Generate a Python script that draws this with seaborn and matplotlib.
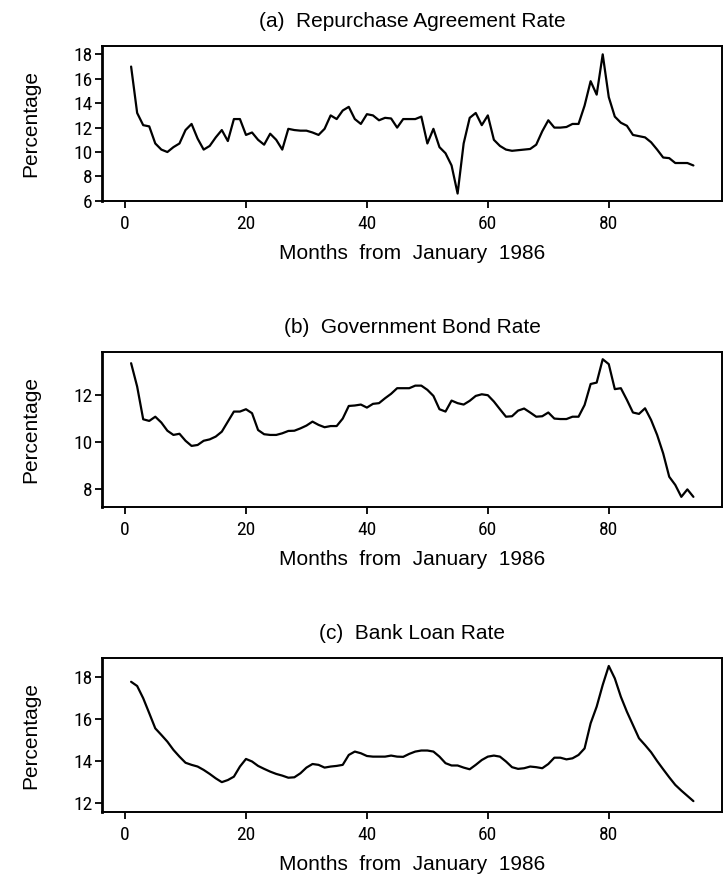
import numpy as np
import pandas as pd
import matplotlib
matplotlib.use("Agg")
import matplotlib.pyplot as plt
from matplotlib import font_manager
import seaborn as sns

# months since January 1986
months = list(range(1, 95))

# (a) repurchase agreement rate
repo_rate = [17.0, 13.2, 12.2, 12.1, 10.7, 10.2, 10.0, 10.4, 10.7, 11.8,
             12.3, 11.1, 10.2, 10.5, 11.2, 11.8, 10.9, 12.7, 12.7, 11.4,
             11.6, 11.0, 10.6, 11.5, 11.0, 10.2, 11.9, 11.8, 11.75, 11.75,
             11.6, 11.4, 11.9, 13.0, 12.7, 13.4, 13.7, 12.7, 12.3, 13.1,
             13.0, 12.6, 12.8, 12.75, 12.0, 12.7, 12.7, 12.7, 12.9, 10.7,
             11.9, 10.4, 9.9, 8.9, 6.6, 10.7, 12.8, 13.2, 12.2, 13.0,
             11.0, 10.5, 10.2, 10.1, 10.15, 10.2, 10.25, 10.6, 11.7, 12.6,
             12.0, 12.0, 12.05, 12.3, 12.3, 13.8, 15.8, 14.7, 18.0, 14.5,
             12.9, 12.4, 12.15, 11.4, 11.3, 11.2, 10.8, 10.2, 9.55, 9.5,
             9.1, 9.1, 9.1, 8.9]

# (b) government bond rate
bond_rate = [13.37, 12.37, 10.97, 10.9, 11.08, 10.83, 10.48, 10.3, 10.35, 10.05,
             9.83, 9.87, 10.05, 10.11, 10.23, 10.44, 10.87, 11.3, 11.3, 11.4,
             11.23, 10.51, 10.33, 10.3, 10.3, 10.37, 10.47, 10.48, 10.58, 10.7,
             10.87, 10.73, 10.63, 10.68, 10.68, 11.0, 11.54, 11.56, 11.6, 11.47,
             11.63, 11.66, 11.87, 12.06, 12.3, 12.3, 12.3, 12.41, 12.41, 12.23,
             11.97, 11.4, 11.3, 11.77, 11.66, 11.6, 11.76, 11.97, 12.04, 12.0,
             11.73, 11.4, 11.08, 11.1, 11.34, 11.43, 11.26, 11.08, 11.1, 11.26,
             11.0, 10.98, 10.98, 11.08, 11.08, 11.58, 12.48, 12.54, 13.54, 13.33,
             12.26, 12.3, 11.8, 11.26, 11.2, 11.44, 10.94, 10.3, 9.51, 8.51,
             8.16, 7.65, 7.97, 7.65]

# (c) bank loan rate
loan_rate = [17.76, 17.56, 16.98, 16.27, 15.55, 15.24, 14.92, 14.53, 14.21, 13.92,
             13.82, 13.74, 13.58, 13.39, 13.18, 13.0, 13.1, 13.26, 13.74, 14.1,
             13.98, 13.77, 13.63, 13.5, 13.39, 13.31, 13.21, 13.23, 13.42, 13.69,
             13.86, 13.82, 13.69, 13.74, 13.77, 13.82, 14.29, 14.45, 14.37, 14.24,
             14.21, 14.21, 14.21, 14.26, 14.21, 14.2, 14.34, 14.45, 14.5, 14.5,
             14.45, 14.21, 13.9, 13.79, 13.79, 13.69, 13.61, 13.82, 14.05, 14.21,
             14.26, 14.21, 13.98, 13.71, 13.63, 13.66, 13.74, 13.71, 13.66, 13.86,
             14.16, 14.16, 14.08, 14.13, 14.29, 14.6, 15.79, 16.58, 17.61, 18.51,
             17.92, 17.05, 16.34, 15.71, 15.08, 14.76, 14.42, 14.0, 13.61, 13.23,
             12.87, 12.6, 12.35, 12.1]

titles = ["(a)  Repurchase Agreement Rate",
          "(b)  Government Bond Rate",
          "(c)  Bank Loan Rate"]
y_ticks = [[6, 8, 10, 12, 14, 16, 18], [8, 10, 12], [12, 14, 16, 18]]
y_lims = [(6.0, 18.67), (7.23, 13.84), (11.6, 18.87)]

sns.set_style("ticks")
installed = {f.name for f in font_manager.fontManager.ttflist}
narrow = [f for f in ['Liberation Sans Narrow', 'Roboto Condensed'] if f in installed]
plt.rcParams['font.family'] = ['Liberation Sans', 'DejaVu Sans']
plt.rcParams['text.color'] = 'black'
plt.rcParams['axes.labelcolor'] = 'black'
tick_font = narrow[0] if narrow else 'Liberation Sans'
tick_size = 14 if narrow else 12

fig = plt.figure(figsize=(7.24, 8.81), dpi=100)

# axes rectangles in figure fractions
boxes = [[0.141, 0.772, 0.856, 0.1756],
         [0.141, 0.4249, 0.856, 0.1753],
         [0.141, 0.0787, 0.856, 0.174]]

series = [repo_rate, bond_rate, loan_rate]
for i in range(3):
    ax = fig.add_axes(boxes[i])
    df = pd.DataFrame({'month': months, 'rate': series[i]})
    sns.lineplot(data=df, x='month', y='rate', ax=ax, color='black', linewidth=1.6)
    ax.set_xlim(-3.8, 98.7)
    ax.set_ylim(*y_lims[i])
    ax.set_xticks([0, 20, 40, 60, 80])
    ax.set_yticks(y_ticks[i])
    ax.tick_params(axis='both', direction='out', length=5, width=1.3,
                   labelsize=tick_size, colors='black')
    ax.tick_params(axis='x', pad=5)
    ax.tick_params(axis='y', pad=2)
    for lab in ax.get_xticklabels() + ax.get_yticklabels():
        lab.set_fontfamily(tick_font)
    for s in ax.spines.values():
        s.set_linewidth(1.4)
        s.set_color('black')
    ax.spines['left'].set_linewidth(2)
    ax.set_xlabel("Months  from  January  1986", fontsize=15, labelpad=8)
    ax.set_ylabel("Percentage", fontsize=15, labelpad=24)
    ax.set_title(titles[i], fontsize=15, pad=14)

fig.savefig("out.png", dpi=100)
